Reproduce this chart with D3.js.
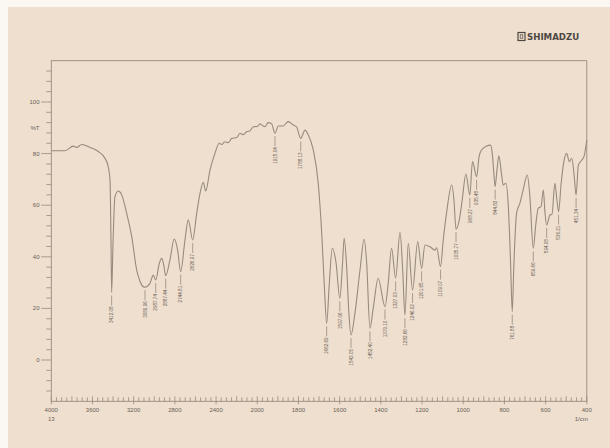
<!DOCTYPE html>
<html><head><meta charset="utf-8">
<script src="https://cdn.jsdelivr.net/npm/d3@7"></script>
<style>html,body{margin:0;padding:0;background:#fff;}svg{display:block;}</style>
</head><body>
<svg id="c" width="610" height="448"></svg>
<script>
// Spectrum trace (wavenumber in 1/cm, %T)
const wavenumber = [4000,3867,3786,3753,3705,3624,3544,3479,3447,3430,3420,3414,3401,3382,3349,3316,3268,3219,3171,3139,3107,3090,3042,3010,2986,2951,2928,2909,2889,2848,2806,2773,2744,2702,2670,2627,2588,2556,2524,2501,2459,2411,2369,2346,2314,2281,2248,2200,2168,2136,2103,2071,2039,2000,
1987,1963,1947,1930,1914,1898,1874,1850,1825,1809,1789,1768,1752,1728,1704,1687,1674,1663,1650,1636,1618,1599,1587,1578,1566,1555,1545,1526,1501,1481,1469,1453,1437,1413,1380,1364,1348,1328,1307,1294,1283,1267,1246,1221,1202,1186,1162,1137,1129,1110,1097,1081,1056,1045,1035,1019,1005,987,968,955,935,923,911,887,867,859,851,845,837,827,814,806,793,782,770,762,754,741,725,709,689,676,660,647,636,622,611,603,595,579,569,555,545,537,525,514,498,485,473,462,452,441,424,413,400];
const transmittance = [81.1,81.1,82.9,82.4,83.5,82.4,80.8,78.2,74.9,69.8,45,26.2,45,63.3,65.5,64,56.8,47.8,34.9,30.5,28.4,28.2,29.7,32.9,31,37.5,39.4,37,32.7,38.8,46.9,42.6,34.2,46.5,54.3,46.5,56.9,64.6,68.9,65.5,73.6,80.1,84,83.5,84.6,84.2,85.9,86.2,87.9,87.3,88.5,88.8,90.4,90.5,
91.5,90.4,92,91.5,87.9,90.7,90.7,92.4,91.1,90.3,85.9,89.1,87.2,81.4,68.5,49.1,28,14.2,30,43.3,38,23.9,36,47.2,36.2,18,9.7,18,35,46.8,38,12.3,20,31.7,20.7,30,43.3,31.7,49.5,35,17.4,45.2,27.1,45.9,35.5,44.6,43.9,42.6,43.5,36.2,46.5,56.9,67.8,62,50.7,54.3,62,72.1,64,76.9,71,78.8,81.4,82.9,83.3,80,72,67.2,73,79.1,72,67.8,68.5,61,37.5,18.7,37,56.9,60.7,65.9,71.7,63,43.3,53,58.8,59.5,65.9,57,52.3,56.2,56.5,68.5,62,57.5,68,75.6,80.1,76.9,78.2,72,64,75.6,77.5,79,85.3];

// Labelled peaks
const peakWn = [3414,3090,2986,2889,2744,2627,1914,1789,1663,1599,1545,1453,1380,1328,1283,1246,1202,1110,1035,968,935,845,762,660,595,537,452];
const peakText = ["3412.08","3089.96","2987.74","2887.44","2744.81","2626.97","1915.04","1788.13","1662.69","1597.06","1543.05","1452.40","1379.10","1327.03","1282.66","1246.02","1201.65","1109.07","1035.77","968.27","935.48","844.82","761.88","659.66","594.08","536.21","451.34"];

// Axis ticks
const xTickLabels = [4000,3600,3200,2800,2400,2000,1800,1600,1400,1200,1000,800,600,400];
const yTickLabels = [0,20,40,60,80,100];

const svg = d3.select("#c");
const bg = "rgb(239,223,206)";
const lineCol = "rgb(150,139,127)";
const textCol = "rgb(105,97,88)";

svg.append("rect").attr("x",0).attr("y",0).attr("width",610).attr("height",448).attr("fill","#fbf8f4");
svg.append("rect").attr("x",8).attr("y",7).attr("width",602).attr("height",441).attr("fill",bg);

const L = 51.3, R = 586.8, T = 60.7, B = 401.3;
const x = d3.scaleLinear().domain([4000,2000,400]).range([L, L + 5*(R-L)/13, R]);
const y = d3.scaleLinear().domain([-16,116]).range([B,T]);

// frame
svg.append("rect").attr("x",L).attr("y",T).attr("width",R-L).attr("height",B-T)
  .attr("fill","none").attr("stroke",lineCol).attr("stroke-width",0.9);

// y ticks
const yT = d3.range(-12,116,4);
svg.append("g").selectAll("line").data(yT).join("line")
  .attr("x1",d => d%20===0 ? L-10 : L-5).attr("x2",L)
  .attr("y1",d=>y(d)).attr("y2",d=>y(d))
  .attr("stroke",lineCol).attr("stroke-width",0.8);
svg.append("g").selectAll("text").data(yTickLabels).join("text")
  .attr("x",39.5).attr("y",d=>y(d)+2).attr("text-anchor","end")
  .attr("font-family","Liberation Sans, Arial, sans-serif").attr("font-size",6)
  .attr("fill",textCol).text(d=>d);
svg.append("text").attr("x",39.5).attr("y",y(90)+2).attr("text-anchor","end")
  .attr("font-family","Liberation Sans, Arial, sans-serif").attr("font-size",6)
  .attr("fill",textCol).text("%T");

// x ticks: 8 subdivisions between labels
const xT = [];
for (let i=0;i<xTickLabels.length-1;i++){
  const a = xTickLabels[i], b = xTickLabels[i+1];
  for (let k=0;k<8;k++) xT.push({v:a+(b-a)*k/8, major:k===0, mid:k===4});
}
xT.push({v:400,major:true,mid:false});
svg.append("g").selectAll("line").data(xT).join("line")
  .attr("x1",d=>x(d.v)).attr("x2",d=>x(d.v))
  .attr("y1",d=> d.major ? B-5 : (d.mid ? B-5 : B-4)).attr("y2",d=> d.major ? B+3 : B)
  .attr("stroke",lineCol).attr("stroke-width",0.8);
svg.append("g").selectAll("text").data(xTickLabels).join("text")
  .attr("x",d=>x(d)).attr("y",B+10.5).attr("text-anchor","middle")
  .attr("font-family","Liberation Sans, Arial, sans-serif").attr("font-size",6)
  .attr("fill",textCol).text(d=>d);
svg.append("text").attr("x",x(4000)).attr("y",B+19.5).attr("text-anchor","middle")
  .attr("font-family","Liberation Sans, Arial, sans-serif").attr("font-size",6)
  .attr("fill",textCol).text("13");
svg.append("text").attr("x",x(400)+1).attr("y",B+19.5).attr("text-anchor","end")
  .attr("font-family","Liberation Sans, Arial, sans-serif").attr("font-size",6)
  .attr("fill",textCol).text("1/cm");

// logo
const lg = svg.append("g");
lg.append("rect").attr("x",518).attr("y",32.5).attr("width",7).attr("height",8)
  .attr("fill","none").attr("stroke","#4d4842").attr("stroke-width",1.2);
lg.append("rect").attr("x",520.2).attr("y",34.8).attr("width",2.6).attr("height",3.4)
  .attr("fill","none").attr("stroke","#4d4842").attr("stroke-width",0.7);
lg.append("text").attr("x",527).attr("y",40.3)
  .attr("font-family","DejaVu Sans, sans-serif").attr("font-weight","bold").attr("font-size",8.6)
  .attr("fill","#4d4842").text("SHIMADZU");

// spectrum
const pts = wavenumber.map((w,i)=>[w,transmittance[i]]);
const line = d3.line().x(d=>x(d[0])).y(d=>y(d[1])).curve(d3.curveMonotoneX);
svg.append("path").attr("d",line(pts)).attr("fill","none")
  .attr("stroke",lineCol).attr("stroke-width",1.1);

// peak labels
const tOf = w => transmittance[wavenumber.indexOf(w)];
const pg = svg.append("g");
peakWn.forEach((w,i)=>{
  const px = x(w), py = y(tOf(w));
  pg.append("line").attr("x1",px).attr("x2",px).attr("y1",py+3).attr("y2",py+13)
    .attr("stroke",lineCol).attr("stroke-width",0.8);
  pg.append("text").attr("transform",`translate(${px+1.7},${py+14}) rotate(-90)`)
    .attr("text-anchor","end").attr("font-family","Liberation Sans, Arial, sans-serif")
    .attr("font-size",4.6).attr("fill",textCol).text(peakText[i]);
});
</script>
</body></html>
